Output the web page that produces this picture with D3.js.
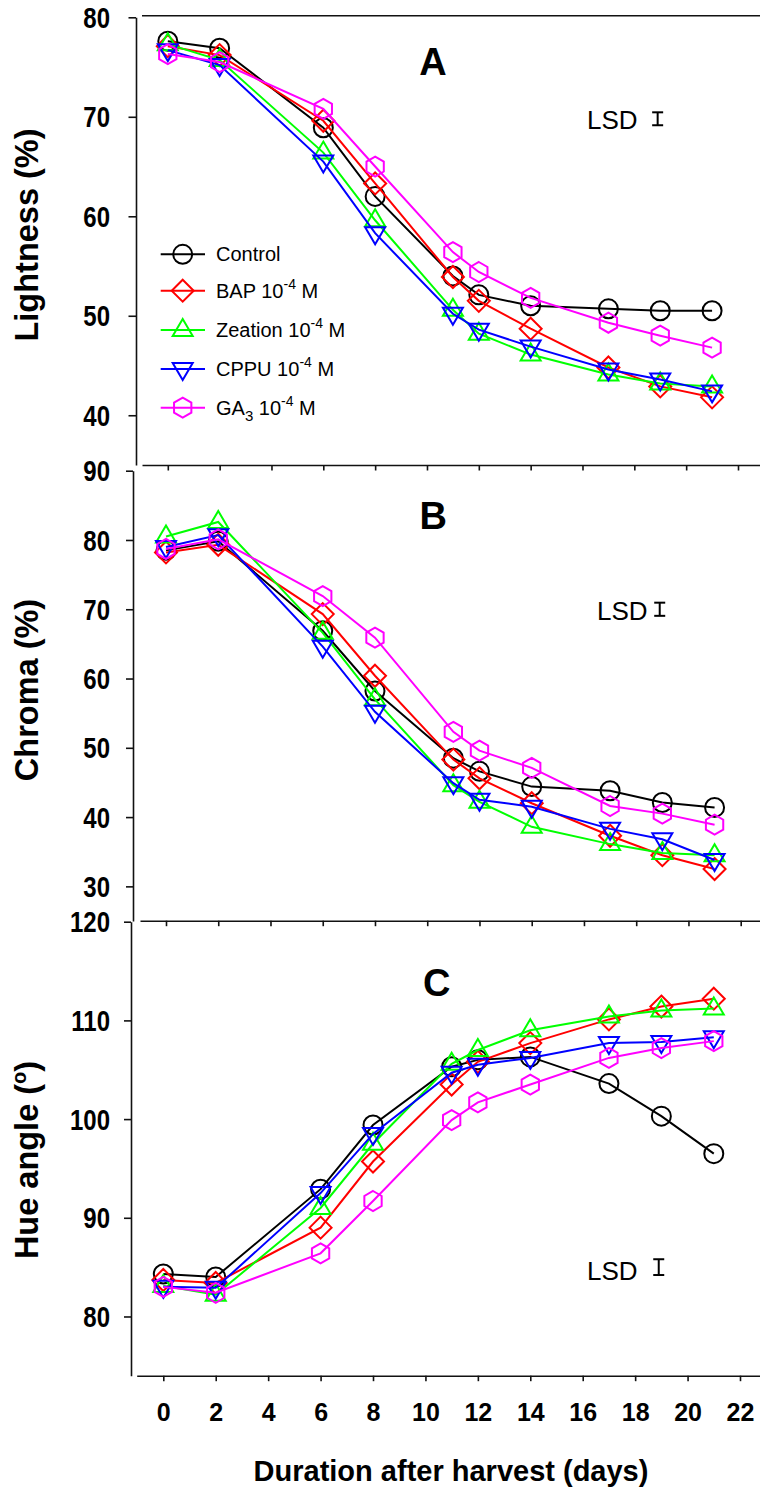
<!DOCTYPE html>
<html>
<head>
<meta charset="utf-8">
<script src="https://cdn.jsdelivr.net/npm/d3@7/dist/d3.min.js"></script>
<style>
  html, body { margin: 0; padding: 0; background: #fff; }
  svg { display: block; font-family: "Liberation Sans", Arial, Helvetica, sans-serif; }
</style>
</head>
<body>
<svg id="chart" width="760" height="1490"></svg>
<script>
// Sampling days after harvest
const days = [0, 2, 6, 8, 11, 12, 14, 17, 19, 21];
const xTicks = [0, 2, 4, 6, 8, 10, 12, 14, 16, 18, 20, 22];

// Treatments
const treatments = ["Control", "BAP", "Zeation", "CPPU", "GA3"];

// Lightness (%)
const lightnessControl = [77.6, 76.9, 68.9, 62.0, 54.0, 52.1, 51.0, 50.7, 50.5, 50.5];
const lightnessBAP     = [77.1, 76.2, 69.6, 63.3, 53.9, 51.5, 48.7, 44.8, 42.9, 41.8];
const lightnessZeation = [77.3, 75.7, 66.4, 59.6, 50.6, 48.2, 46.1, 44.1, 43.2, 42.9];
const lightnessCPPU    = [76.7, 75.2, 65.5, 58.3, 50.2, 48.6, 46.9, 44.6, 43.6, 42.4];
const lightnessGA3     = [76.3, 75.5, 70.8, 65.0, 56.4, 54.4, 51.8, 49.3, 48.0, 46.8];

// Chroma (%)
const chromaControl = [78.5, 79.8, 66.9, 58.2, 48.5, 46.6, 44.4, 43.8, 42.1, 41.4];
const chromaBAP     = [78.2, 79.3, 69.3, 60.4, 48.3, 45.6, 42.0, 37.3, 34.5, 32.5];
const chromaZeation = [80.5, 82.6, 66.6, 57.0, 44.6, 42.2, 38.6, 36.1, 34.8, 34.5];
const chromaCPPU    = [79.0, 80.7, 64.6, 55.2, 44.9, 42.5, 41.5, 38.3, 36.8, 33.8];
const chromaGA3     = [78.7, 80.1, 71.9, 65.9, 52.3, 49.6, 47.1, 41.6, 40.5, 38.9];

// Hue angle (degrees)
const hueControl = [84.3, 84.0, 92.9, 99.4, 105.3, 106.0, 106.3, 103.6, 100.3, 96.5];
const hueBAP     = [83.7, 83.4, 89.0, 95.7, 103.5, 105.8, 107.7, 110.1, 111.4, 112.2];
const hueZeation = [83.1, 82.2, 91.0, 97.5, 105.6, 107.0, 109.0, 110.4, 111.0, 111.2];
const hueCPPU    = [83.0, 82.9, 92.5, 98.5, 104.7, 105.5, 106.2, 107.7, 107.8, 108.3];
const hueGA3     = [83.0, 82.4, 86.4, 91.7, 99.9, 101.7, 103.5, 106.2, 107.2, 107.9];

// LSD bars: value, and where each bar sits (day, centre value)
const lsdValues = [1.3, 1.9, 1.6];
const lsdDay = [18.9, 18.9, 18.9];
const lsdCentre = [69.8, 70.0, 85.0];

const panelLetters = ["A", "B", "C"];

// ---- styling ----
const colors = { Control: "#000000", BAP: "#ff0000", Zeation: "#00ff00", CPPU: "#0000ff", GA3: "#ff00ff" };
const shapes = { Control: "circle", BAP: "diamond", Zeation: "triangleUp", CPPU: "triangleDown", GA3: "hexagon" };

function markerPath(shape) {
  switch (shape) {
    case "circle": { const r = 9.5; return `M${r},0A${r},${r},0,1,1,${-r},0A${r},${r},0,1,1,${r},0Z`; }
    case "diamond": { const r = 11; return `M0,${-r}L${r},0L0,${r}L${-r},0Z`; }
    case "triangleUp": return "M0,-11L10,6L-10,6Z";
    case "triangleDown": return "M0,11L10,-6L-10,-6Z";
    case "hexagon": {
      const r = 10, c = r * Math.cos(Math.PI / 6);
      return `M0,${-r}L${c},${-r / 2}L${c},${r / 2}L0,${r}L${-c},${r / 2}L${-c},${-r / 2}Z`;
    }
  }
}

const svg = d3.select("#chart");
const font = "'Liberation Sans', Arial, Helvetica, sans-serif";

const panels = [
  {
    values: [lightnessControl, lightnessBAP, lightnessZeation, lightnessCPPU, lightnessGA3],
    yDomain: [35, 80], yRange: [465, 17.3], yTicks: [40, 50, 60, 70, 80],
    xRange: [167.8, 738], axisX: 136, frameStart: 142, bottomY: 465, tickLen: 7.5,
    topFrame: true, xLabels: false, title: "Lightness (%)", titleY: 235,
    letterX: 433, letterY: 75, lsdTextX: 587, lsdTextY: 129
  },
  {
    values: [chromaControl, chromaBAP, chromaZeation, chromaCPPU, chromaGA3],
    yDomain: [25, 90], yRange: [921, 470.7], yTicks: [30, 40, 50, 60, 70, 80, 90],
    xRange: [166, 740.7], axisX: 133, frameStart: 140, bottomY: 920.7, tickLen: 7,
    topFrame: false, xLabels: false, title: "Chroma (%)", titleY: 690,
    letterX: 433.3, letterY: 529.3, lsdTextX: 597, lsdTextY: 619.5
  },
  {
    values: [hueControl, hueBAP, hueZeation, hueCPPU, hueGA3],
    yDomain: [74, 120], yRange: [1375.7, 921.7], yTicks: [80, 90, 100, 110, 120],
    xRange: [163.3, 740], axisX: 131, frameStart: 136.7, bottomY: 1375.7, tickLen: 7,
    topFrame: false, xLabels: true, title: "Hue angle (", titleY: 1160,
    letterX: 436.7, letterY: 996, lsdTextX: 587, lsdTextY: 1280
  }
];

panels.forEach((p, pi) => {
  const x = d3.scaleLinear().domain([0, 22]).range(p.xRange);
  const y = d3.scaleLinear().domain(p.yDomain).range(p.yRange);
  const g = svg.append("g");

  // bottom axis spanning to the right edge
  const xAxisScale = x.copy().domain([x.invert(p.frameStart), x.invert(762)]).range([p.frameStart, 762]);
  const xAxis = d3.axisBottom(xAxisScale).tickValues(xTicks).tickSize(5.5).tickSizeOuter(0).tickPadding(22);
  const xg = g.append("g").attr("transform", `translate(0,${p.bottomY})`).call(xAxis);
  xg.select(".domain").attr("stroke", "#111").attr("stroke-width", 1.6);
  xg.selectAll(".tick line").attr("stroke", "#111").attr("stroke-width", 1.6);
  if (p.xLabels) {
    xg.selectAll(".tick text").attr("fill", "#000").attr("font-size", 25).attr("font-weight", "bold").attr("font-family", font);
  } else {
    xg.selectAll(".tick text").remove();
  }

  if (p.topFrame) {
    g.append("line")
      .attr("x1", p.frameStart).attr("x2", 762)
      .attr("y1", y(p.yDomain[1]) - 1.5).attr("y2", y(p.yDomain[1]) - 1.5)
      .attr("stroke", "#111").attr("stroke-width", 1.6);
  }

  // left axis
  const yAxis = d3.axisLeft(y).tickValues(p.yTicks).tickSize(p.tickLen).tickSizeOuter(0)
    .tickPadding(p.axisX - 110 - p.tickLen);
  const yg = g.append("g").attr("transform", `translate(${p.axisX},0)`).call(yAxis);
  yg.select(".domain").attr("stroke", "#111").attr("stroke-width", 1.6);
  yg.selectAll(".tick line").attr("stroke", "#111").attr("stroke-width", 1.6);
  yg.selectAll(".tick text").attr("fill", "#000").attr("font-size", 24).attr("font-weight", "bold")
    .attr("font-family", font).attr("dy", "0.35em").attr("transform", "scale(1,1.2)");

  // y title
  const t = g.append("text")
    .attr("transform", `translate(38,${p.titleY}) rotate(-90)`)
    .attr("text-anchor", "middle").attr("font-size", 32.5).attr("font-weight", "bold")
    .attr("font-family", font).attr("fill", "#000").text(p.title);
  if (pi === 2) {
    t.append("tspan").attr("font-size", 20).attr("dy", -12).text("o");
    t.append("tspan").attr("dy", 12).text(")");
  }

  // panel letter
  g.append("text").attr("x", p.letterX).attr("y", p.letterY).attr("text-anchor", "middle")
    .attr("font-size", 38).attr("font-weight", "bold").attr("font-family", font).text(panelLetters[pi]);

  // LSD
  g.append("text").attr("x", p.lsdTextX).attr("y", p.lsdTextY)
    .attr("font-size", 26).attr("font-family", font).text("LSD");
  const lx = x(lsdDay[pi]);
  const ly1 = y(lsdCentre[pi] + lsdValues[pi] / 2), ly2 = y(lsdCentre[pi] - lsdValues[pi] / 2);
  const lsd = g.append("g").attr("stroke", "#000").attr("stroke-width", 2);
  lsd.append("line").attr("x1", lx).attr("x2", lx).attr("y1", ly1).attr("y2", ly2);
  lsd.append("line").attr("x1", lx - 5.5).attr("x2", lx + 5.5).attr("y1", ly1).attr("y2", ly1);
  lsd.append("line").attr("x1", lx - 5.5).attr("x2", lx + 5.5).attr("y1", ly2).attr("y2", ly2);

  // series
  const line = d3.line().x((d, i) => x(days[i])).y(d => y(d));
  treatments.forEach((name, si) => {
    const vals = p.values[si];
    const sg = g.append("g");
    sg.append("path").attr("d", line(vals)).attr("fill", "none")
      .attr("stroke", colors[name]).attr("stroke-width", 2);
    sg.selectAll("path.m").data(vals).join("path").attr("class", "m")
      .attr("d", markerPath(shapes[name]))
      .attr("transform", (d, i) => `translate(${x(days[i])},${y(d)})`)
      .attr("fill", "none").attr("stroke", colors[name]).attr("stroke-width", 2);
  });
});

// legend (panel A)
const legendRows = [254.3, 290.7, 330, 369, 407.7];
const legend = svg.append("g").attr("font-family", font).attr("font-size", 20);
treatments.forEach((name, i) => {
  const ly = legendRows[i];
  const row = legend.append("g").attr("transform", `translate(0,${ly})`);
  row.append("line").attr("x1", 160.7).attr("x2", 205).attr("y1", 0).attr("y2", 0)
    .attr("stroke", colors[name]).attr("stroke-width", 2);
  row.append("path").attr("d", markerPath(shapes[name])).attr("transform", "translate(182.7,0)")
    .attr("fill", "none").attr("stroke", colors[name]).attr("stroke-width", 2);
  const txt = row.append("text").attr("x", 216).attr("y", 7).attr("fill", "#000");
  if (name === "Control") {
    txt.text("Control");
  } else if (name === "GA3") {
    txt.append("tspan").text("GA");
    txt.append("tspan").attr("font-size", 15).attr("dy", 6).text("3");
    txt.append("tspan").attr("dy", -6).text(" 10");
    txt.append("tspan").attr("font-size", 14).attr("dy", -9).text("-4");
    txt.append("tspan").attr("dy", 9).text(" M");
  } else {
    txt.append("tspan").text(name + " 10");
    txt.append("tspan").attr("font-size", 14).attr("dy", -9).text("-4");
    txt.append("tspan").attr("dy", 9).text(" M");
  }
});

// x title
svg.append("text").attr("x", 451).attr("y", 1481).attr("text-anchor", "middle")
  .attr("font-size", 29).attr("font-weight", "bold").attr("font-family", font)
  .text("Duration after harvest (days)");
</script>
</body>
</html>
